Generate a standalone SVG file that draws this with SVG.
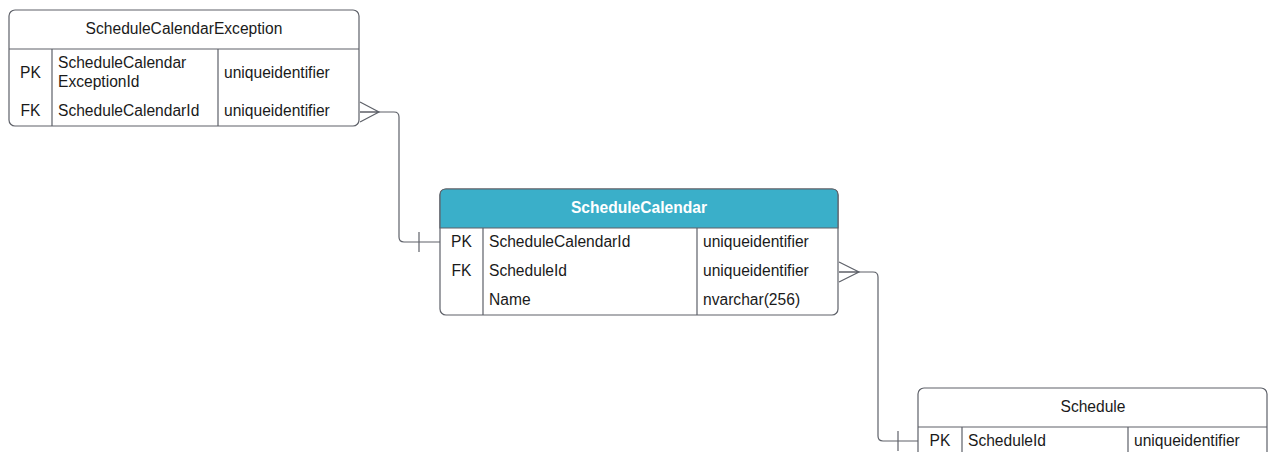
<svg xmlns="http://www.w3.org/2000/svg" width="1268" height="452" viewBox="0 0 1268 452">
<style>
.box{fill:#ffffff;stroke:#5e6169;stroke-width:1.2}
.ln{fill:none;stroke:#5e6169;stroke-width:1.2}
.t{font-family:"Liberation Sans",Arial,sans-serif;font-size:15.6px;fill:#1a1a1a}
.c{text-anchor:middle}
.h{font-family:"Liberation Sans",Arial,sans-serif;font-size:15.6px;font-weight:bold;fill:#ffffff;text-anchor:middle}
</style>
<rect width="1268" height="452" fill="#ffffff"/>
<g id="connectors">
  <path class="ln" d="M360 112 H394 Q399 112 399 117 V237 Q399 242 404 242 H440"/>
  <path class="ln" d="M360 102 L379 112 L360 122 M360 112 H379"/>
  <path class="ln" d="M419 232 V252"/>
  <path class="ln" d="M839 272 H873 Q878 272 878 277 V436 Q878 441 883 441 H918"/>
  <path class="ln" d="M839 262 L859 272 L839 282 M839 272 H859"/>
  <path class="ln" d="M898 431 V451"/>
</g>
<g id="ScheduleCalendarException">
  <rect class="box" x="9" y="10" width="350" height="116" rx="6"/>
  <path class="ln" d="M9 49 H359 M52 49 V126 M218 49 V126"/>
  <text class="t c" x="184" y="33.5">ScheduleCalendarException</text>
  <text class="t c" x="30.5" y="77.5">PK</text>
  <text class="t" x="58" y="67.5">ScheduleCalendar</text>
  <text class="t" x="58" y="86.5">ExceptionId</text>
  <text class="t" x="224" y="77.5">uniqueidentifier</text>
  <text class="t c" x="30.5" y="115.5">FK</text>
  <text class="t" x="58" y="115.5">ScheduleCalendarId</text>
  <text class="t" x="224" y="115.5">uniqueidentifier</text>
</g>
<g id="ScheduleCalendar">
  <rect class="box" x="440" y="189" width="398" height="126" rx="6"/>
  <path d="M440 228 V195 Q440 189 446 189 H832 Q838 189 838 195 V228 Z" fill="#3aafc9" stroke="#5e6169" stroke-width="1.2"/>
  <path class="ln" d="M483 228 V315 M697 228 V315"/>
  <text class="h" x="639" y="212.5">ScheduleCalendar</text>
  <text class="t c" x="461.5" y="246.5">PK</text>
  <text class="t" x="489" y="246.5">ScheduleCalendarId</text>
  <text class="t" x="703" y="246.5">uniqueidentifier</text>
  <text class="t c" x="461.5" y="275.5">FK</text>
  <text class="t" x="489" y="275.5">ScheduleId</text>
  <text class="t" x="703" y="275.5">uniqueidentifier</text>
  <text class="t" x="489" y="304.5">Name</text>
  <text class="t" x="703" y="304.5">nvarchar(256)</text>
</g>
<g id="Schedule">
  <rect class="box" x="918" y="388" width="349" height="90" rx="6"/>
  <path class="ln" d="M918 427 H1267 M962 427 V478 M1128 427 V478"/>
  <text class="t c" x="1093" y="411.5">Schedule</text>
  <text class="t c" x="940" y="445.5">PK</text>
  <text class="t" x="968" y="445.5">ScheduleId</text>
  <text class="t" x="1134" y="445.5">uniqueidentifier</text>
</g>
</svg>
